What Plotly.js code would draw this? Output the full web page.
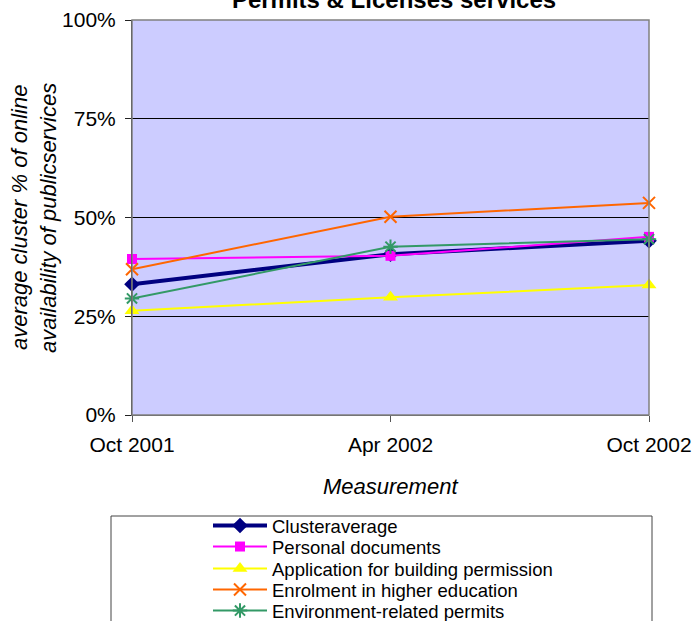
<!DOCTYPE html>
<html>
<head>
<meta charset="utf-8">
<script src="https://cdn.plot.ly/plotly-3.0.1.min.js"></script>
<style>
  html, body { margin: 0; padding: 0; background: #fff; }
  #chart { width: 694px; height: 621px; }
</style>
</head>
<body>
<div id="chart"></div>
<script>
// Measurement rounds
const categories = ['Oct 2001', 'Apr 2002', 'Oct 2002'];

// Average online availability per service (%)
const clusterAverage     = [33.1, 40.7, 44.1];
const personalDocuments  = [39.5, 40.3, 45.1];
const buildingPermission = [26.4, 29.8, 32.9];
const higherEducation    = [36.9, 50.2, 53.7];
const environmentPermits = [29.5, 42.6, 44.5];

const seriesNames = [
  'Clusteraverage',
  'Personal documents',
  'Application for building permission',
  'Enrolment in higher education',
  'Environment-related permits'
];

const yTickValues = [0, 25, 50, 75, 100];

const FONT = 'Liberation Sans, Arial, sans-serif';

// plot area: x 132..649, y 20..415 (px)
const L = 132, R = 649, T = 20, B = 415, W = 694, H = 621;
const pw = R - L, ph = B - T;
const px = v => (v - L) / pw;
const py = v => (B - v) / ph;

// each legend row is its own legend so the rows sit tightly stacked
const legendIds = ['legend', 'legend2', 'legend3', 'legend4', 'legend5'];
const legendRowY = [526, 547, 569, 590, 611];

function line(i, values, color, width, marker) {
  return {
    type: 'scatter',
    mode: 'lines+markers',
    name: seriesNames[i],
    legend: legendIds[i],
    x: categories,
    y: values,
    cliponaxis: false,
    line: { color: color, width: width },
    marker: marker
  };
}

const traces = [
  line(0, clusterAverage, '#000080', 4,
       { symbol: 'diamond', size: 12, color: '#000080' }),
  line(1, personalDocuments, '#FF00FF', 2,
       { symbol: 'square', size: 10, color: '#FF00FF' }),
  line(2, buildingPermission, '#FFFF00', 2,
       { symbol: 'triangle-up', size: 13, color: '#FFFF00' }),
  line(3, higherEducation, '#FF6600', 2,
       { symbol: 'x-thin', size: 12, color: '#FF6600', line: { color: '#FF6600', width: 2 } }),
  line(4, environmentPermits, '#339966', 2,
       { symbol: 'asterisk', size: 12, color: '#339966', line: { color: '#339966', width: 2 } })
];

const layout = {
  width: W,
  height: H,
  margin: { l: L, r: W - R, t: T, b: H - B, autoexpand: false },
  paper_bgcolor: '#ffffff',
  plot_bgcolor: '#CCCCFF',
  font: { family: FONT, size: 20, color: '#000' },
  showlegend: true,
  title: {
    text: '<b>Permits & Licenses services</b>',
    font: { family: FONT, size: 24, color: '#000' },
    x: px(394), xref: 'paper', xanchor: 'center',
    y: 1 - 0 / H, yref: 'container', yanchor: 'middle'
  },
  xaxis: {
    type: 'category',
    range: [0, categories.length - 1],
    showgrid: false,
    zeroline: false,
    showline: true,
    linecolor: '#555',
    linewidth: 1,
    ticks: 'outside',
    ticklen: 6,
    tickcolor: '#555',
    ticklabelstandoff: 5,
    tickfont: { family: FONT, size: 21, color: '#000' }
  },
  yaxis: {
    range: [0, 100],
    tickvals: yTickValues,
    ticktext: yTickValues.map(v => v + '%'),
    showgrid: true,
    gridcolor: '#000',
    gridwidth: 1,
    zeroline: false,
    showline: true,
    linecolor: '#222',
    linewidth: 1,
    ticks: 'outside',
    ticklen: 6,
    tickcolor: '#222',
    ticklabelstandoff: 5,
    tickfont: { family: FONT, size: 21, color: '#000' }
  },
  shapes: [
    // plot area frame
    { type: 'rect', xref: 'paper', yref: 'paper', x0: 0, x1: 1, y0: 0, y1: 1,
      line: { color: '#808080', width: 1.5 }, fillcolor: 'rgba(0,0,0,0)', layer: 'above' },
    // legend frame
    { type: 'rect', xref: 'paper', yref: 'paper',
      x0: px(111), x1: px(652), y0: py(640), y1: py(516),
      line: { color: '#444', width: 1 }, fillcolor: 'rgba(0,0,0,0)' }
  ],
  annotations: [
    { text: '<i>average cluster % of online</i>', textangle: -90,
      xref: 'paper', yref: 'paper', x: px(19), y: py(218),
      xanchor: 'center', yanchor: 'middle', showarrow: false,
      font: { family: FONT, size: 22, color: '#000' } },
    { text: '<i>availability of publicservices</i>', textangle: -90,
      xref: 'paper', yref: 'paper', x: px(48), y: py(218),
      xanchor: 'center', yanchor: 'middle', showarrow: false,
      font: { family: FONT, size: 22, color: '#000' } },
    { text: '<i>Measurement</i>',
      xref: 'paper', yref: 'paper', x: px(390), y: py(486),
      xanchor: 'center', yanchor: 'middle', showarrow: false,
      font: { family: FONT, size: 22, color: '#000' } }
  ]
};

legendIds.forEach((id, i) => {
  layout[id] = {
    x: px(208), xanchor: 'left',
    y: py(legendRowY[i]), yanchor: 'middle',
    bgcolor: 'rgba(0,0,0,0)',
    borderwidth: 0,
    itemwidth: 54,
    font: { family: FONT, size: 18.5, color: '#000' }
  };
});

Plotly.newPlot('chart', traces, layout, { displayModeBar: false, staticPlot: true });
</script>
</body>
</html>
